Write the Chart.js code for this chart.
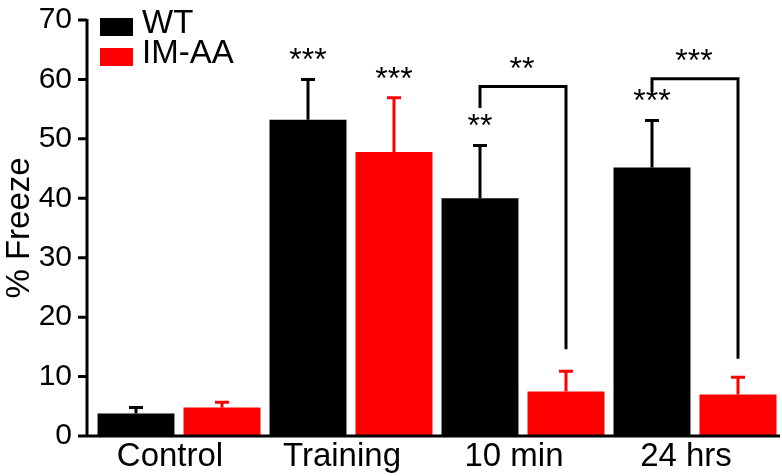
<!DOCTYPE html>
<html>
<head>
<meta charset="utf-8">
<script src="https://cdn.jsdelivr.net/npm/chart.js@4.4.0/dist/chart.umd.min.js"></script>
<style>
  html, body { margin: 0; padding: 0; background: #fff; }
  #wrap { width: 782px; height: 476px; }
</style>
</head>
<body>
<div id="wrap"><canvas id="freezeChart"></canvas></div>
<script>
// data (% freeze, mean and upward error)
const categories = ['Control', 'Training', '10 min', '24 hrs'];
const wtMeans = [3.8, 53.2, 40.0, 45.2];
const wtErr = [1.0, 6.8, 8.9, 7.9];
const imMeans = [4.8, 47.8, 7.5, 7.0];
const imErr = [0.9, 9.1, 3.4, 2.9];
const wtStars = ['', '***', '**', '***'];
const imStars = ['', '***', '', ''];
// WT vs IM-AA comparison brackets (heights in % freeze)
const pairStars = ['', '', '**', '***'];
const pairTop = [null, null, 58.8, 60.1];
const pairLeftEnd = [null, null, 55.2, 57.8];
const pairRightEnd = [null, null, 14.6, 13.0];

const FONT = "'Liberation Sans', Arial, Helvetica, sans-serif";

const extrasPlugin = {
  id: 'extras',
  afterDatasetsDraw(chart) {
    const ctx = chart.ctx;
    const y = chart.scales.y;
    const area = chart.chartArea;
    const axisX = area.left - 6;
    ctx.save();
    ctx.lineWidth = 3;
    ctx.lineCap = 'butt';

    // error bars (upward only)
    const errs = [wtErr, imErr];
    chart.data.datasets.forEach((ds, di) => {
      const meta = chart.getDatasetMeta(di);
      meta.data.forEach((bar, i) => {
        const top = y.getPixelForValue(ds.data[i] + errs[di][i]);
        ctx.strokeStyle = ds.backgroundColor;
        ctx.beginPath();
        ctx.moveTo(bar.x, bar.y);
        ctx.lineTo(bar.x, top);
        ctx.moveTo(bar.x - 7, top);
        ctx.lineTo(bar.x + 7, top);
        ctx.stroke();
      });
    });

    // significance stars over bars
    ctx.fillStyle = '#000';
    ctx.font = '32px ' + FONT;
    ctx.textAlign = 'center';
    ctx.textBaseline = 'alphabetic';
    const stars = [wtStars, imStars];
    chart.data.datasets.forEach((ds, di) => {
      const meta = chart.getDatasetMeta(di);
      meta.data.forEach((bar, i) => {
        if (!stars[di][i]) return;
        const top = y.getPixelForValue(ds.data[i] + errs[di][i]);
        ctx.fillText(stars[di][i], bar.x, top - 9);
      });
    });

    // brackets
    const m0 = chart.getDatasetMeta(0), m1 = chart.getDatasetMeta(1);
    ctx.strokeStyle = '#000';
    pairStars.forEach((s, i) => {
      if (!s) return;
      const xl = m0.data[i].x, xr = m1.data[i].x;
      const yt = y.getPixelForValue(pairTop[i]);
      ctx.beginPath();
      ctx.moveTo(xl, y.getPixelForValue(pairLeftEnd[i]));
      ctx.lineTo(xl, yt);
      ctx.lineTo(xr, yt);
      ctx.lineTo(xr, y.getPixelForValue(pairRightEnd[i]));
      ctx.stroke();
      ctx.fillText(s, (xl + xr) / 2 - 1, yt - 8);
    });

    // axes
    ctx.beginPath();
    ctx.moveTo(axisX, area.top - 1);
    ctx.lineTo(axisX, area.bottom);
    ctx.moveTo(axisX - 1.5, area.bottom);
    ctx.lineTo(area.right - 1, area.bottom);
    y.ticks.forEach(t => {
      const py = y.getPixelForValue(t.value);
      ctx.moveTo(axisX - 9, py);
      ctx.lineTo(axisX, py);
    });
    ctx.stroke();

    // legend
    ctx.font = '33px ' + FONT;
    ctx.textAlign = 'left';
    chart.data.datasets.forEach((ds, di) => {
      const top = 18 + di * 30;
      ctx.fillStyle = ds.backgroundColor;
      ctx.fillRect(100, top, 33, 18);
      ctx.fillStyle = '#000';
      ctx.fillText(ds.label, 142, top + 15);
    });
    ctx.restore();
  }
};

new Chart(document.getElementById('freezeChart'), {
  type: 'bar',
  data: {
    labels: categories,
    datasets: [
      { label: 'WT', data: wtMeans, backgroundColor: '#000000' },
      { label: 'IM-AA', data: imMeans, backgroundColor: '#ff0000' }
    ]
  },
  options: {
    responsive: true,
    maintainAspectRatio: false,
    animation: false,
    categoryPercentage: 1.0,
    barPercentage: 0.895,
    layout: { padding: { top: 20, right: 1, left: 0, bottom: 0 } },
    scales: {
      x: {
        grid: { display: false, drawTicks: false },
        border: { display: false },
        ticks: { color: '#000', font: { size: 33, family: FONT }, padding: 1, labelOffset: -9 },
        afterFit(scale) {
          scale.height = 40;
          scale.paddingLeft = 0;
          scale.paddingRight = 0;
        }
      },
      y: {
        min: 0,
        max: 70,
        grid: { display: false, drawTicks: false },
        border: { display: false },
        ticks: { stepSize: 10, color: '#000', font: { size: 30, family: FONT }, padding: 21 },
        title: { display: true, text: '% Freeze', color: '#000', font: { size: 33, family: FONT }, padding: 0 },
        afterFit(scale) {
          scale.width = 93;
          scale.paddingTop = 0;
          scale.paddingBottom = 0;
        }
      }
    },
    plugins: {
      legend: { display: false },
      tooltip: { enabled: false }
    }
  },
  plugins: [extrasPlugin]
});
</script>
</body>
</html>
